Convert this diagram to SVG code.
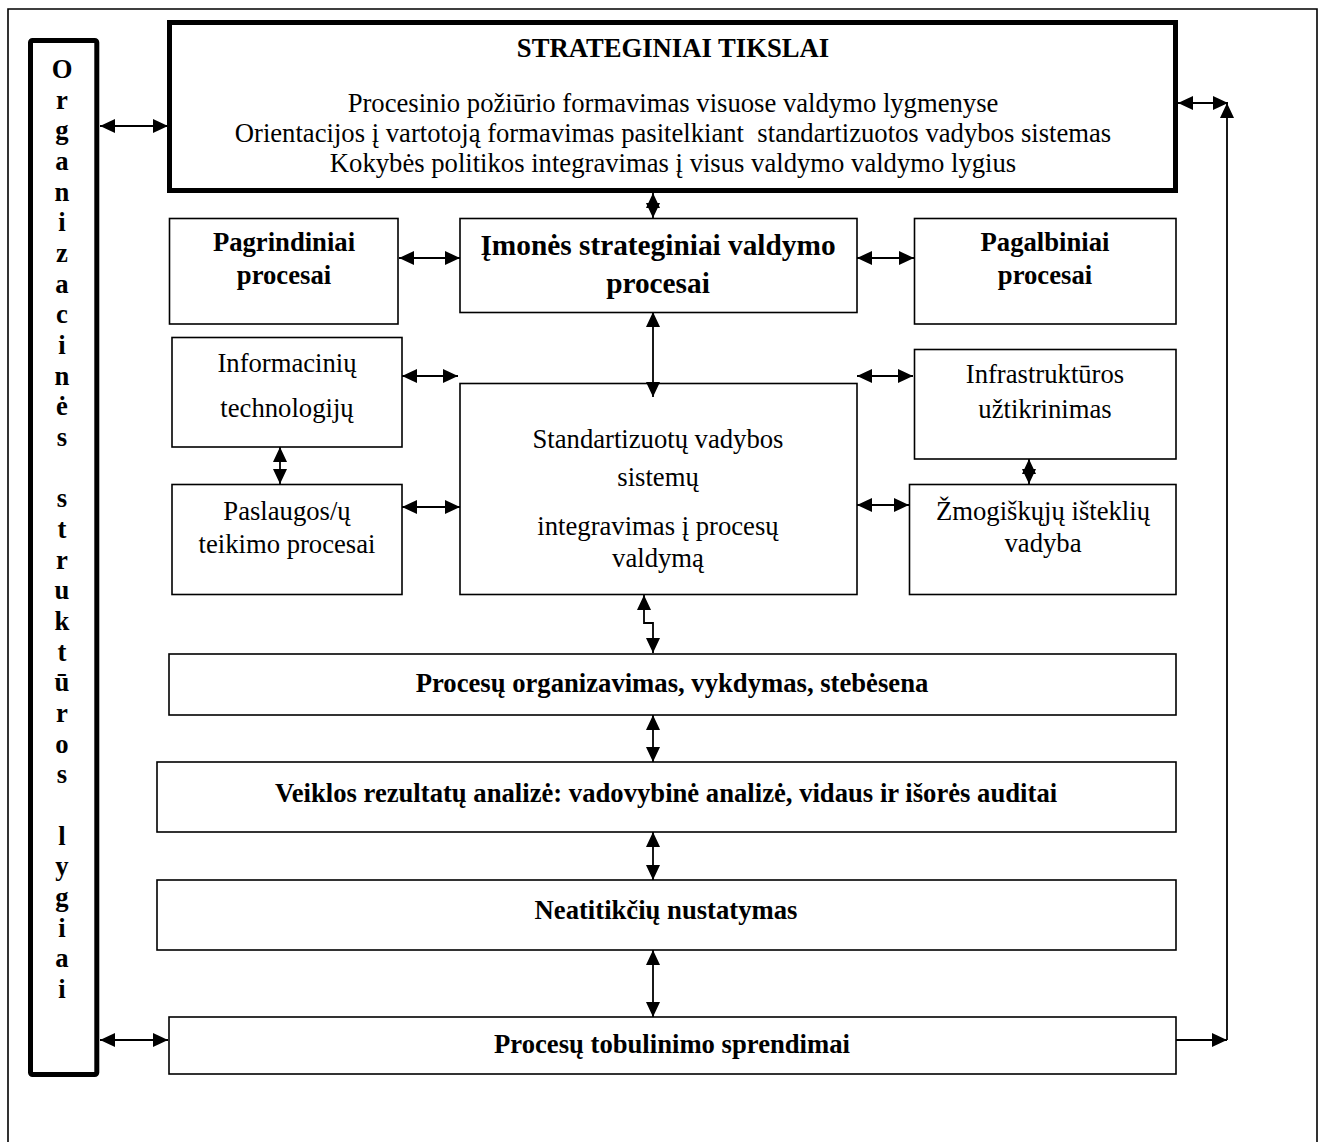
<svg xmlns="http://www.w3.org/2000/svg" width="1325" height="1142" viewBox="0 0 1325 1142">
  <style>
    .box { fill: #fff; stroke: #000; stroke-width: 1.6; }
    .heavy { fill: #fff; stroke: #000; stroke-width: 5; }
    .frame { fill: none; stroke: #000; stroke-width: 1.6; }
    .t { font-family: "Liberation Serif", "Times New Roman", serif; font-size: 26.67px; fill: #000; text-anchor: middle; }
    .b { font-weight: bold; }
    .conn { fill: none; stroke: #000; stroke-width: 1.8; }
  </style>
  <defs>
    <marker id="head" viewBox="0 0 15 14" refX="15" refY="7" markerWidth="15" markerHeight="14" markerUnits="userSpaceOnUse" orient="auto-start-reverse">
      <path d="M0,0 L15,7 L0,14 Z" fill="#000"/>
    </marker>
  </defs>

  <rect width="1325" height="1142" fill="#fff"/>

  <!-- page frame (open at the bottom) -->
  <path class="frame" d="M8,1150 V9 H1317 V1150"/>

  <!-- vertical side column -->
  <g id="org-levels">
    <rect class="heavy" x="30.5" y="40.5" width="66.3" height="1034" rx="2"/>
    <text class="t b" x="62" y="78">
      <tspan x="62">O</tspan><tspan x="62" dy="30.67">r</tspan><tspan x="62" dy="30.67">g</tspan><tspan x="62" dy="30.67">a</tspan><tspan x="62" dy="30.67">n</tspan><tspan x="62" dy="30.67">i</tspan><tspan x="62" dy="30.67">z</tspan><tspan x="62" dy="30.67">a</tspan><tspan x="62" dy="30.67">c</tspan><tspan x="62" dy="30.67">i</tspan><tspan x="62" dy="30.67">n</tspan><tspan x="62" dy="30.67">ė</tspan><tspan x="62" dy="30.67">s</tspan><tspan x="62" dy="61.34">s</tspan><tspan x="62" dy="30.67">t</tspan><tspan x="62" dy="30.67">r</tspan><tspan x="62" dy="30.67">u</tspan><tspan x="62" dy="30.67">k</tspan><tspan x="62" dy="30.67">t</tspan><tspan x="62" dy="30.67">ū</tspan><tspan x="62" dy="30.67">r</tspan><tspan x="62" dy="30.67">o</tspan><tspan x="62" dy="30.67">s</tspan><tspan x="62" dy="61.34">l</tspan><tspan x="62" dy="30.67">y</tspan><tspan x="62" dy="30.67">g</tspan><tspan x="62" dy="30.67">i</tspan><tspan x="62" dy="30.67">a</tspan><tspan x="62" dy="30.67">i</tspan>
    </text>
  </g>

  <!-- strategic goals -->
  <g id="strategic-goals">
    <rect class="heavy" x="169.5" y="22.5" width="1006" height="168"/>
    <text class="t b" x="673" y="57">STRATEGINIAI TIKSLAI</text>
    <text class="t" x="673" y="112">Procesinio požiūrio formavimas visuose valdymo lygmenyse</text>
    <text class="t" x="673" y="142">Orientacijos į vartotoją formavimas pasitelkiant&#160; standartizuotos vadybos sistemas</text>
    <text class="t" x="673" y="172">Kokybės politikos integravimas į visus valdymo valdymo lygius</text>
  </g>

  <g id="core-processes">
    <rect class="box" x="169.5" y="218.5" width="228.5" height="105.5"/>
    <text class="t b" x="284" y="251">Pagrindiniai</text>
    <text class="t b" x="284" y="284">procesai</text>
  </g>

  <g id="strategic-management">
    <rect class="box" x="460" y="218.5" width="397" height="94"/>
    <text class="t b" x="658" y="255" style="font-size:29.33px">Įmonės strateginiai valdymo</text>
    <text class="t b" x="658" y="293" style="font-size:29.33px">procesai</text>
  </g>

  <g id="support-processes">
    <rect class="box" x="914.5" y="218.5" width="261.5" height="105.5"/>
    <text class="t b" x="1045" y="251">Pagalbiniai</text>
    <text class="t b" x="1045" y="284">procesai</text>
  </g>

  <g id="it">
    <rect class="box" x="172" y="337.5" width="230" height="109.5"/>
    <text class="t" x="287" y="372">Informacinių</text>
    <text class="t" x="287" y="417">technologijų</text>
  </g>

  <g id="service-delivery">
    <rect class="box" x="172" y="484.5" width="230" height="110"/>
    <text class="t" x="287" y="520">Paslaugos/ų</text>
    <text class="t" x="287" y="553">teikimo procesai</text>
  </g>

  <g id="standards-integration">
    <rect class="box" x="460" y="383.5" width="397" height="211"/>
    <text class="t" x="658" y="448">Standartizuotų vadybos</text>
    <text class="t" x="658" y="486">sistemų</text>
    <text class="t" x="658" y="535">integravimas į procesų</text>
    <text class="t" x="658" y="567">valdymą</text>
  </g>

  <g id="infrastructure">
    <rect class="box" x="914.5" y="349.5" width="261.5" height="109.5"/>
    <text class="t" x="1045" y="383">Infrastruktūros</text>
    <text class="t" x="1045" y="418">užtikrinimas</text>
  </g>

  <g id="human-resources">
    <rect class="box" x="909.5" y="484.5" width="266.5" height="110"/>
    <text class="t" x="1043" y="520">Žmogiškųjų išteklių</text>
    <text class="t" x="1043" y="552">vadyba</text>
  </g>

  <g id="process-execution">
    <rect class="box" x="169" y="654" width="1007" height="61"/>
    <text class="t b" x="672" y="692">Procesų organizavimas, vykdymas, stebėsena</text>
  </g>

  <g id="performance-analysis">
    <rect class="box" x="157" y="762" width="1019" height="70"/>
    <text class="t b" x="666" y="802">Veiklos rezultatų analizė: vadovybinė analizė, vidaus ir išorės auditai</text>
  </g>

  <g id="nonconformities">
    <rect class="box" x="157" y="880" width="1019" height="70"/>
    <text class="t b" x="666" y="919">Neatitikčių nustatymas</text>
  </g>

  <g id="improvement-decisions">
    <rect class="box" x="169" y="1017" width="1007" height="57"/>
    <text class="t b" x="672" y="1053">Procesų tobulinimo sprendimai</text>
  </g>

  <!-- connectors -->
  <g id="connectors">
    <line class="conn" x1="100" y1="126" x2="168" y2="126" marker-start="url(#head)" marker-end="url(#head)"/>
    <line class="conn" x1="1178" y1="103" x2="1228" y2="103" marker-start="url(#head)" marker-end="url(#head)"/>
    <line class="conn" x1="1227" y1="1040" x2="1227" y2="103" marker-end="url(#head)"/>
    <line class="conn" x1="1176" y1="1040" x2="1227" y2="1040" marker-end="url(#head)"/>
    <line class="conn" x1="653" y1="193" x2="653" y2="218" marker-start="url(#head)" marker-end="url(#head)"/>
    <line class="conn" x1="399" y1="258" x2="460" y2="258" marker-start="url(#head)" marker-end="url(#head)"/>
    <line class="conn" x1="857" y1="258" x2="914" y2="258" marker-start="url(#head)" marker-end="url(#head)"/>
    <line class="conn" x1="653" y1="312" x2="653" y2="397" marker-start="url(#head)" marker-end="url(#head)"/>
    <line class="conn" x1="402" y1="376" x2="458" y2="376" marker-start="url(#head)" marker-end="url(#head)"/>
    <line class="conn" x1="402" y1="507" x2="460" y2="507" marker-start="url(#head)" marker-end="url(#head)"/>
    <line class="conn" x1="280" y1="447" x2="280" y2="484" marker-start="url(#head)" marker-end="url(#head)"/>
    <line class="conn" x1="857" y1="376" x2="913" y2="376" marker-start="url(#head)" marker-end="url(#head)"/>
    <line class="conn" x1="857" y1="505" x2="909" y2="505" marker-start="url(#head)" marker-end="url(#head)"/>
    <line class="conn" x1="1029" y1="459" x2="1029" y2="484" marker-start="url(#head)" marker-end="url(#head)"/>
    <path class="conn" d="M644,595 V623 H653 V653" marker-start="url(#head)" marker-end="url(#head)"/>
    <line class="conn" x1="653" y1="715" x2="653" y2="762" marker-start="url(#head)" marker-end="url(#head)"/>
    <line class="conn" x1="653" y1="832" x2="653" y2="880" marker-start="url(#head)" marker-end="url(#head)"/>
    <line class="conn" x1="653" y1="950" x2="653" y2="1017" marker-start="url(#head)" marker-end="url(#head)"/>
    <line class="conn" x1="100" y1="1040" x2="168" y2="1040" marker-start="url(#head)" marker-end="url(#head)"/>
  </g>
</svg>
